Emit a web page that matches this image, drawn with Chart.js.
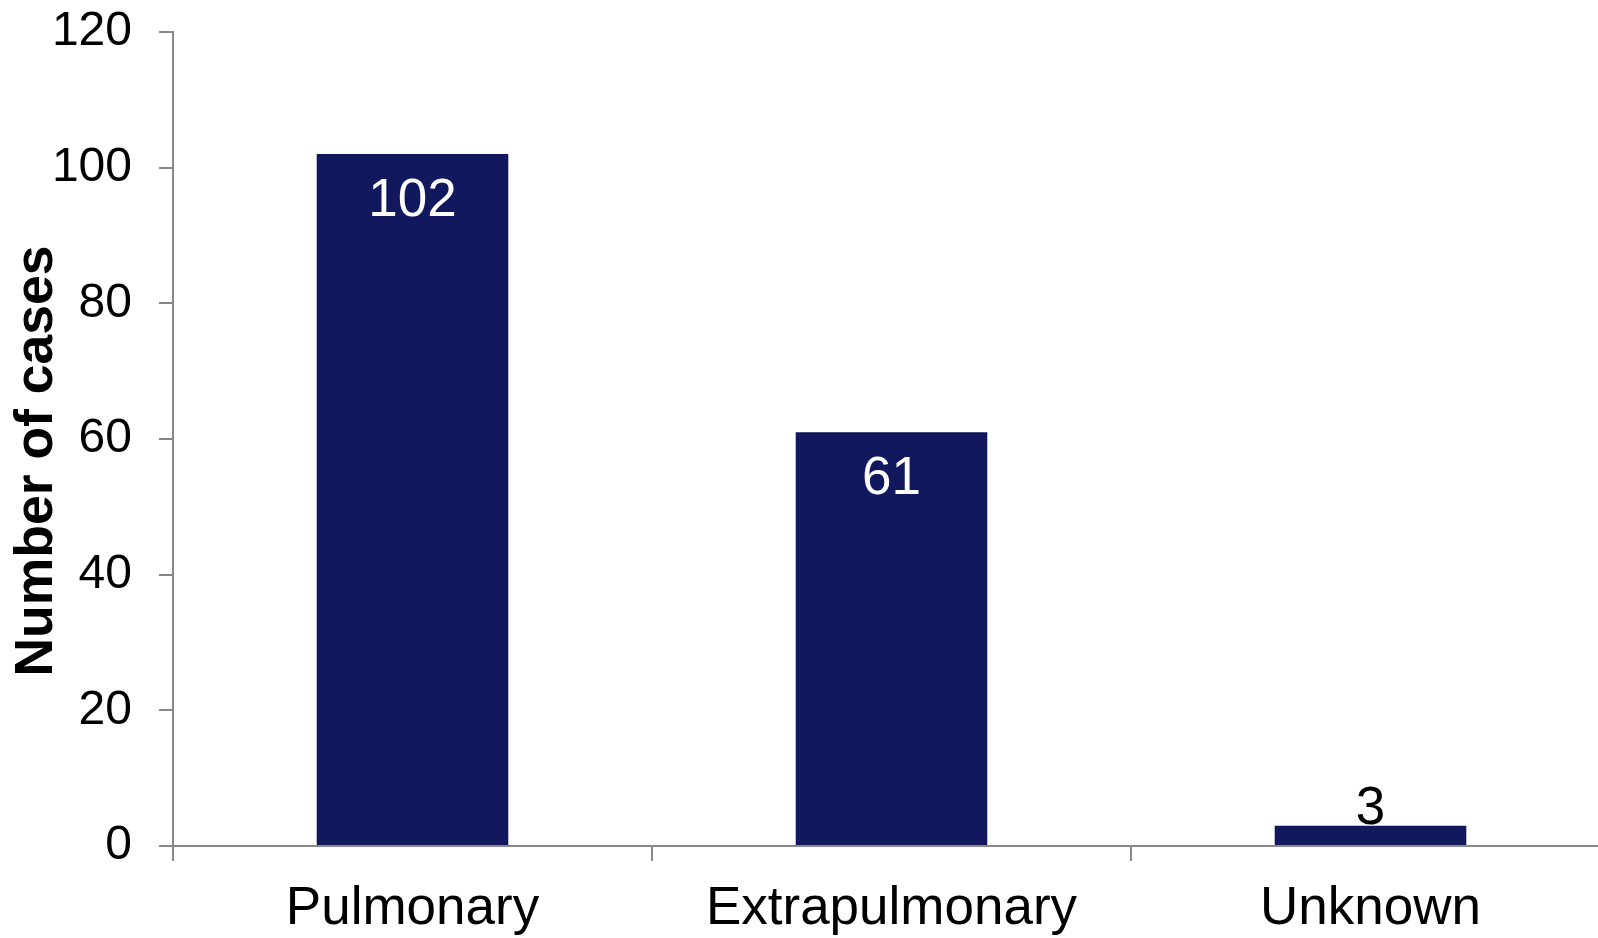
<!DOCTYPE html>
<html>
<head>
<meta charset="utf-8">
<script src="https://cdn.jsdelivr.net/npm/chart.js@4/dist/chart.umd.min.js"></script>
<style>
  html, body { margin: 0; padding: 0; background: #fff; overflow: hidden; }
  #wrap { width: 1612px; height: 938px; }
</style>
</head>
<body>
<div id="wrap"><canvas id="myChart" width="1612" height="938"></canvas></div>
<script>
const categories = ['Pulmonary', 'Extrapulmonary', 'Unknown'];
const cases = [102, 61, 3];
const yTicks = [0, 20, 40, 60, 80, 100, 120];
const yTitle = 'Number of cases';

const FONT = '"Liberation Sans", Arial, sans-serif';
const AXIS_GREY = '#898989';
const BAR_BLUE = '#12185E';

// value labels: white inside tall bars, black above short ones
const valueLabels = {
    id: 'valueLabels',
    afterDatasetsDraw: (chart) => {
        const { ctx } = chart;
        const meta = chart.getDatasetMeta(0);
        ctx.save();
        ctx.font = '53px ' + FONT;
        ctx.textAlign = 'center';
        ctx.textBaseline = 'middle';
        meta.data.forEach((bar, i) => {
            const h = bar.base - bar.y;
            if (h > 80) {
                ctx.fillStyle = '#fff';
                ctx.fillText(String(cases[i]), bar.x, bar.y + 47);
            } else {
                ctx.fillStyle = '#000';
                ctx.fillText(String(cases[i]), bar.x, bar.y - 16);
            }
        });
        ctx.restore();
    }
};

// y axis title, sitting a bit below the middle of the axis like the original
const axisTitle = {
    id: 'axisTitle',
    afterDraw: (chart) => {
        const { ctx, chartArea: { top, bottom } } = chart;
        ctx.save();
        ctx.translate(37, (top + bottom) / 2 + 22);
        ctx.rotate(-Math.PI / 2);
        ctx.font = 'bold 53.5px ' + FONT;
        ctx.fillStyle = '#000';
        ctx.textAlign = 'center';
        ctx.textBaseline = 'middle';
        ctx.fillText(yTitle, 0, 0);
        ctx.restore();
    }
};

new Chart(document.getElementById('myChart'), {
    type: 'bar',
    data: {
        labels: categories,
        datasets: [{
            label: yTitle,
            data: cases,
            backgroundColor: BAR_BLUE,
            borderWidth: 0,
            categoryPercentage: 1.0,
            barPercentage: 0.4
        }]
    },
    plugins: [valueLabels, axisTitle],
    options: {
        responsive: false,
        animation: false,
        layout: { padding: { top: 32, right: 2, left: 0, bottom: 0 } },
        plugins: {
            legend: { display: false },
            tooltip: { enabled: false }
        },
        scales: {
            x: {
                afterFit: (scale) => {
                    scale.height = 92;
                    scale.paddingLeft = 0;
                    scale.paddingRight = 0;
                },
                grid: {
                    offset: true,
                    drawOnChartArea: false,
                    drawTicks: true,
                    tickLength: 15,
                    color: AXIS_GREY,
                    lineWidth: 2
                },
                border: { display: true, color: AXIS_GREY, width: 2 },
                ticks: {
                    color: '#000',
                    padding: 17,
                    maxRotation: 0,
                    font: { family: FONT, size: 53 }
                }
            },
            y: {
                min: 0,
                max: 120,
                afterFit: (scale) => {
                    scale.width = 173;
                    scale.paddingTop = 0;
                    scale.paddingBottom = 0;
                },
                afterBuildTicks: (scale) => {
                    scale.ticks = yTicks.map(v => ({ value: v }));
                },
                grid: {
                    drawOnChartArea: false,
                    drawTicks: true,
                    tickLength: 14,
                    color: AXIS_GREY,
                    lineWidth: 2
                },
                border: { display: true, color: AXIS_GREY, width: 2 },
                ticks: {
                    color: '#000',
                    padding: 27,
                    font: { family: FONT, size: 48 }
                }
            }
        }
    }
});
</script>
</body>
</html>
